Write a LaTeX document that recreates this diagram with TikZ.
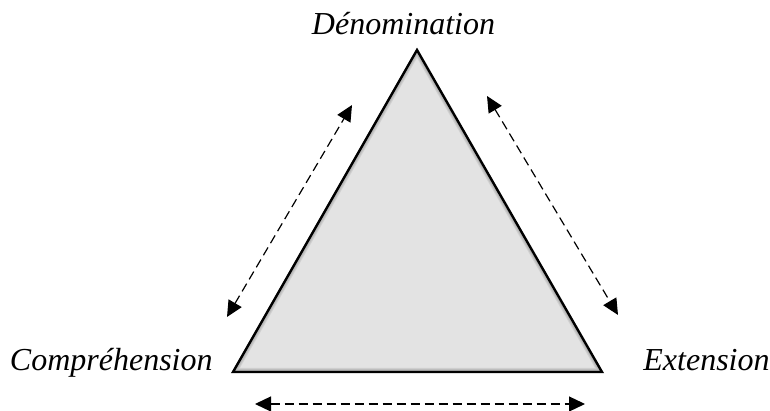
\documentclass[tikz,border=0pt]{standalone}
\usepackage{fontspec}
\setmainfont{Liberation Serif}
\usetikzlibrary{arrows.meta}
\tikzset{pole/.style={font=\fontsize{16}{18}\selectfont\itshape,inner sep=0pt},
         lien/.style={{Triangle[length=8pt,width=7.5pt]}-{Triangle[length=8pt,width=7.5pt]},dash pattern=on 4.5pt off 2.5pt,line width=0.6pt},
            }

\begin{document}
\begin{tikzpicture}[x=0.5pt,y=0.5pt]
    \useasboundingbox (0,0) rectangle (770,411);
    \coordinate (D) at (417,361);
    \coordinate (C) at (233,39);
    \coordinate (E) at (602,39);

    \fill[black!11] (D) -- (C) -- (E) -- cycle;
    \begin{scope}
    \clip (D) -- (C) -- (E) -- cycle;
    \foreach \w in {4pt,3pt,2pt}
        \draw[black,opacity=0.08,line width=\w] (D) -- (C) -- (E) -- cycle;
    \end{scope}
    \draw[line width=1.2pt,line join=miter] (D) -- (C) -- (E) -- cycle;

    \node[pole,anchor=base] (den) at (403.5,376) {Dénomination};
    \node[pole,anchor=base east] (comp) at (213,40) {Compréhension};
    \node[pole,anchor=base west] (ext) at (643,40) {Extension};

    \coordinate (l1) at (227,94);
    \coordinate (l2) at (352,306);
    \coordinate (r1) at (487,315);
    \coordinate (r2) at (618,96);
    \coordinate (b1) at (255,7);
    \coordinate (b2) at (585,7);

    \draw[lien] (l1) -- (l2);
    \draw[lien] (r1) -- (r2);
    \draw[lien] (b1) -- (b2);
\end{tikzpicture}
\end{document}
